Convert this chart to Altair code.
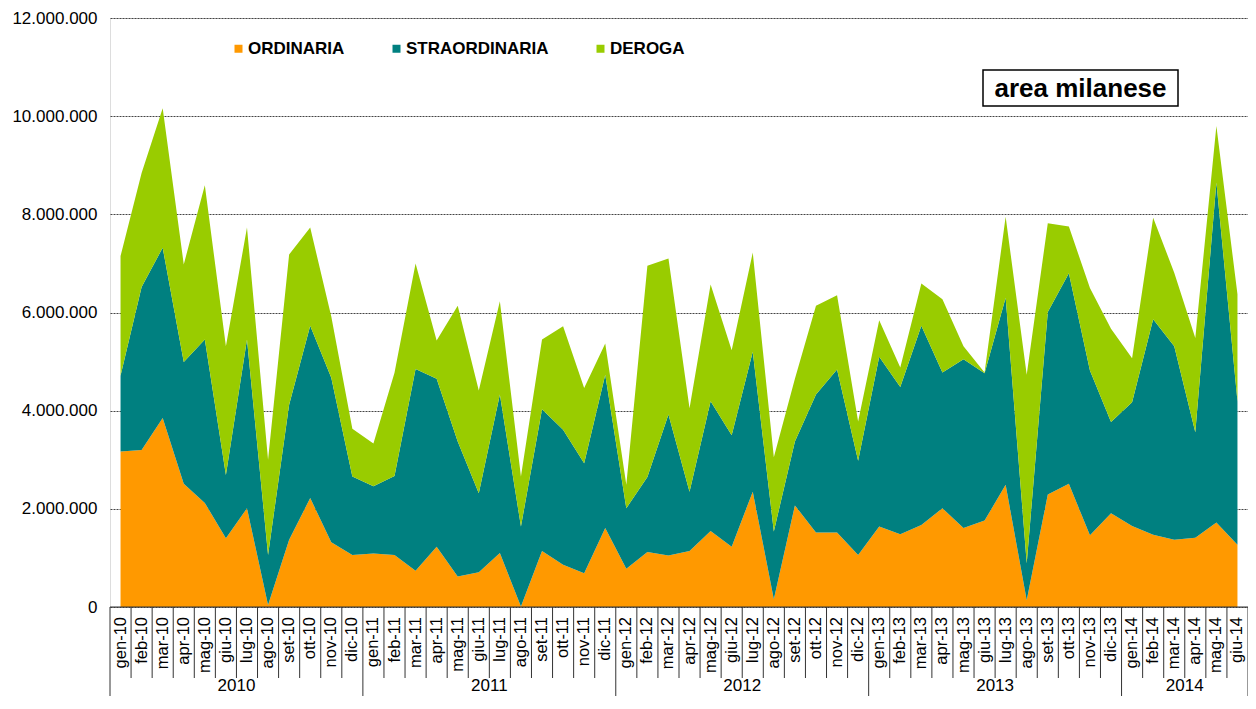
import altair as alt
import pandas as pd

months = ["gen-10", "feb-10", "mar-10", "apr-10", "mag-10", "giu-10", "lug-10", "ago-10", "set-10", "ott-10", "nov-10", "dic-10",
          "gen-11", "feb-11", "mar-11", "apr-11", "mag-11", "giu-11", "lug-11", "ago-11", "set-11", "ott-11", "nov-11", "dic-11",
          "gen-12", "feb-12", "mar-12", "apr-12", "mag-12", "giu-12", "lug-12", "ago-12", "set-12", "ott-12", "nov-12", "dic-12",
          "gen-13", "feb-13", "mar-13", "apr-13", "mag-13", "giu-13", "lug-13", "ago-13", "set-13", "ott-13", "nov-13", "dic-13",
          "gen-14", "feb-14", "mar-14", "apr-14", "mag-14", "giu-14"]

ordinaria = [3.17, 3.20, 3.85, 2.51, 2.12, 1.40, 2.01, 0.04, 1.37, 2.22, 1.32, 1.06,
             1.09, 1.06, 0.74, 1.23, 0.62, 0.71, 1.10, 0.01, 1.14, 0.86, 0.69, 1.61,
             0.78, 1.12, 1.05, 1.14, 1.55, 1.23, 2.35, 0.16, 2.07, 1.52, 1.52, 1.06,
             1.64, 1.48, 1.67, 2.01, 1.61, 1.76, 2.49, 0.14, 2.29, 2.51, 1.46, 1.91,
             1.65, 1.47, 1.37, 1.41, 1.72, 1.27]
straordinaria = [1.54, 3.32, 3.47, 2.48, 3.33, 1.29, 3.44, 1.02, 2.75, 3.51, 3.35, 1.60,
                 1.37, 1.61, 4.11, 3.42, 2.75, 1.61, 3.23, 1.63, 2.89, 2.75, 2.24, 3.12,
                 1.23, 1.53, 2.87, 1.21, 2.64, 2.27, 2.85, 1.38, 1.30, 2.81, 3.32, 1.92,
                 3.46, 3.00, 4.06, 2.77, 3.44, 3.00, 3.81, 0.75, 3.72, 4.29, 3.36, 1.86,
                 2.52, 4.39, 3.94, 2.15, 6.93, 2.92]
deroga = [2.44, 2.32, 2.84, 1.99, 3.14, 2.62, 2.28, 1.94, 3.06, 2.00, 1.25, 0.97,
          0.87, 2.10, 2.15, 0.78, 2.77, 2.09, 1.90, 1.02, 1.42, 2.11, 1.53, 0.64,
          0.48, 4.30, 3.18, 1.70, 2.38, 1.73, 2.02, 1.51, 1.28, 1.81, 1.51, 0.80,
          0.74, 0.40, 0.86, 1.49, 0.26, 0.02, 1.65, 3.84, 1.81, 0.95, 1.68, 1.90,
          0.90, 2.07, 1.50, 1.92, 1.15, 2.18]

series_names = ["ORDINARIA", "STRAORDINARIA", "DEROGA"]
series_colors = ["#FF9900", "#008080", "#99CC00"]

years = ["2010", "2011", "2012", "2013", "2014"]
year_first = [0, 12, 24, 36, 48]
year_last = [11, 23, 35, 47, 53]
y_ticks = [0, 2000000, 4000000, 6000000, 8000000, 10000000, 12000000]

PADL, PADT = 102, 10
W, H = 1138, 589
BOTTOM = 89
FONT = "Liberation Sans"

rows = []
for i, m in enumerate(months):
    for k, (name, vals) in enumerate(zip(series_names, [ordinaria, straordinaria, deroga])):
        rows.append({"idx": i, "month": m, "serie": name, "ord": k, "value": vals[i] * 1e6})
df = pd.DataFrame(rows)

xscale = alt.Scale(domain=[-0.5, len(months) - 0.5], nice=False, zero=False)

area = alt.Chart(df).mark_area(opacity=1).encode(
    x=alt.X("idx:Q", scale=xscale, axis=None),
    y=alt.Y("value:Q", stack="zero",
            scale=alt.Scale(domain=[0, 12000000], nice=False),
            axis=alt.Axis(values=y_ticks, title=None, grid=True, gridDash=[2, 1],
                          gridColor="#444", gridWidth=1, domain=False, ticks=False,
                          labelFontSize=17, labelFont=FONT, labelColor="black",
                          labelPadding=13,
                          labelExpr="replace(replace(format(datum.value, ',d'), ',', '.'), ',', '.')")),
    color=alt.Color("serie:N", scale=alt.Scale(domain=series_names, range=series_colors),
                    legend=alt.Legend(title=None, orient="none", legendX=120, legendY=22,
                                      direction="horizontal", symbolType="square",
                                      symbolSize=64, symbolStrokeWidth=0, labelFontSize=17,
                                      labelFont=FONT, labelFontWeight="bold",
                                      labelColor="black", columnPadding=43, labelOffset=1)),
    order=alt.Order("ord:Q"),
)

# x axis baseline
base_df = pd.DataFrame({"a": [0]})
axis_line = alt.Chart(base_df).mark_rule(color="#333", strokeWidth=1).encode(
    x=alt.value(0), x2=alt.value(W), y=alt.value(H)
)

# separators between month labels
bounds = pd.DataFrame({"b": [i - 0.5 for i in range(len(months) + 1)]})
bounds["long"] = bounds["b"].apply(lambda v: (v + 0.5) in year_first or (v + 0.5) == len(months))
sep_short = alt.Chart(bounds).transform_filter("!datum.long").mark_rule(color="#333", strokeWidth=1).encode(
    x=alt.X("b:Q", scale=xscale), y=alt.value(H), y2=alt.value(H + 71)
)
sep_long = alt.Chart(bounds).transform_filter("datum.long").mark_rule(color="#333", strokeWidth=1).encode(
    x=alt.X("b:Q", scale=xscale), y=alt.value(H), y2=alt.value(H + BOTTOM + 5)
)

# month labels
lab_df = pd.DataFrame({"idx": list(range(len(months))), "month": months})
month_labels = alt.Chart(lab_df).mark_text(angle=270, align="right", baseline="middle",
                                           fontSize=16.5, font=FONT, color="black").encode(
    x=alt.X("idx:Q", scale=xscale), y=alt.value(H + 10), text="month:N"
)

# year labels
yr_df = pd.DataFrame({"year": years, "first": year_first, "last": year_last})
year_labels = alt.Chart(yr_df).transform_calculate(mid="(datum.first + datum.last) / 2").mark_text(
    align="center", baseline="alphabetic", fontSize=17, font=FONT, color="black").encode(
    x=alt.X("mid:Q", scale=xscale), y=alt.value(H + 84), text="year:N"
)

# title box "area milanese"
box = alt.Chart(base_df).mark_rect(fill="white", stroke="black", strokeWidth=1.5).encode(
    x=alt.value(873), x2=alt.value(1068), y=alt.value(52), y2=alt.value(88)
)
box_text = alt.Chart(pd.DataFrame({"t": ["area milanese"]})).mark_text(
    align="center", baseline="middle", fontSize=26, fontWeight="bold", font=FONT, color="black"
).encode(x=alt.value(970.5), y=alt.value(71), text="t:N")

chart = alt.layer(area, axis_line, sep_short, sep_long, month_labels, year_labels, box, box_text).properties(
    width=W, height=H,
    autosize=alt.AutoSizeParams(type="none"),
    padding={"left": PADL, "top": PADT, "right": 0, "bottom": BOTTOM},
).configure_view(stroke=None).configure(background="white")

chart.save("out.html", embed_options={"renderer": "svg", "actions": False})
